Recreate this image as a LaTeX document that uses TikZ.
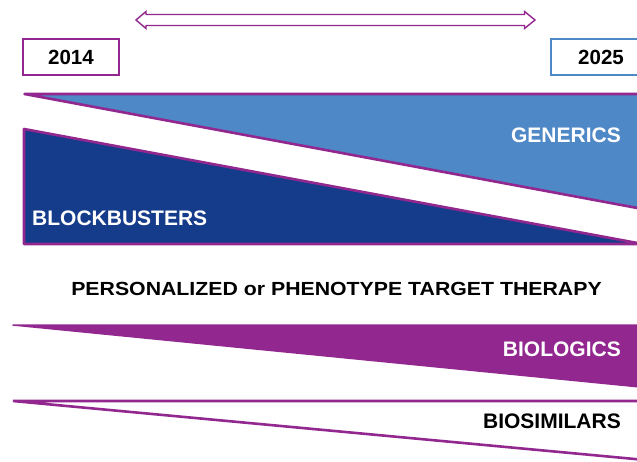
\documentclass[tikz,border=0pt]{standalone}
\usepackage{fontspec}
\setmainfont{Liberation Sans}
\definecolor{pur}{HTML}{92278F}
\definecolor{lblue}{HTML}{4F88C6}
\definecolor{dblue}{HTML}{153C8A}
\begin{document}
\begin{tikzpicture}[x=1pt,y=-1pt,
  lab/.style={font=\fontsize{21}{23}\selectfont\bfseries, inner sep=0pt},
  yearbox/.style={draw, line width=2.2pt, minimum width=96pt, minimum height=36pt, inner sep=0pt, font=\fontsize{20.5}{22}\selectfont\bfseries},
  edge/.style={draw=pur, line width=2.6pt, line join=round}]
\useasboundingbox (0,0) rectangle (637,462);
\clip (0,0) rectangle (637,462);
% double arrow
\draw[pur, line width=1.4pt, fill=white, line join=miter]
  (136,20) -- (146,11.5) -- (146,14.5) -- (524.5,14.5) -- (524.5,11.5) -- (535,20)
  -- (524.5,28.5) -- (524.5,25.5) -- (146,25.5) -- (146,28.5) -- cycle;
% year boxes
\node[yearbox, draw=pur] (y2014) at (71,57) {2014};
\node[yearbox, draw=lblue] (y2025) at (599,57) {\hspace*{4pt}2025};
% generics
\fill[lblue] (24.5,94) -- (640,94) -- (640,208) -- cycle;
\draw[edge] (640,94) -- (24.5,94) -- (640,208.5);
% blockbusters
\filldraw[edge, fill=dblue] (24,129) -- (640,243.5) -- (640,244) -- (24,244) -- cycle;
% biologics
\filldraw[draw=pur, fill=pur, line width=1.5pt, line join=round] (13,325) -- (640,325) -- (640,387) -- cycle;
% biosimilars
\draw[pur, line width=2.6pt] (640,401) -- (13,401) -- (640,459.5);
% labels
\node[lab, text=white, anchor=base east] (gen) at (621,143) {GENERICS};
\node[lab, text=white, anchor=base west] (blk) at (32,226) {BLOCKBUSTERS};
\node[lab, text=white, anchor=base east] (bio) at (621,356) {BIOLOGICS};
\node[lab, text=black, anchor=base east] (bsim) at (621,428.5) {BIOSIMILARS};
\node[inner sep=0pt, anchor=base, xscale=1.12, font=\fontsize{19}{21}\selectfont\bfseries] (pers) at (336.5,296) {PERSONALIZED or PHENOTYPE TARGET THERAPY};
\end{tikzpicture}
\end{document}
